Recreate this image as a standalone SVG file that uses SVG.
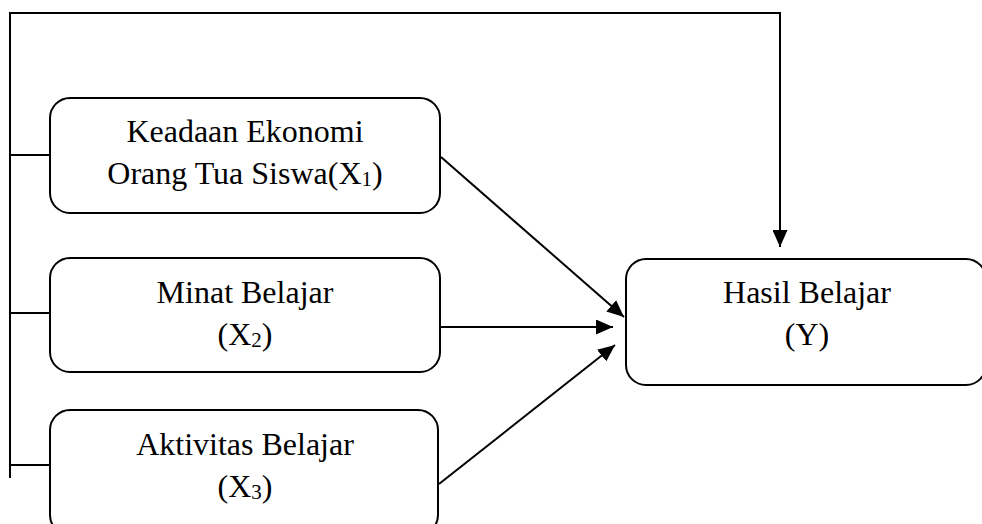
<svg xmlns="http://www.w3.org/2000/svg" width="982" height="524" viewBox="0 0 982 524">
<defs>
<style>
.box{fill:#fff;stroke:#000;stroke-width:2}
.ln{fill:none;stroke:#000;stroke-width:2}
.t{font-family:"Liberation Serif","Times New Roman",serif;font-size:32px;fill:#000;text-anchor:middle}
.s{font-size:21px}
</style>
<marker id="ah" viewBox="0 0 17 15" refX="17" refY="7.5" markerWidth="8.5" markerHeight="7.5" markerUnits="strokeWidth" orient="auto">
<path d="M0,0 L17,7.5 L0,15 Z" fill="#000"/>
</marker>
</defs>
<g id="connectors">
<polyline class="ln" points="10,478 10,13 780,13 780,247" marker-end="url(#ah)"/>
<line class="ln" x1="10" y1="155" x2="50" y2="155"/>
<line class="ln" x1="10" y1="313" x2="50" y2="313"/>
<line class="ln" x1="10" y1="465" x2="50" y2="465"/>
<line class="ln" x1="441" y1="157" x2="624" y2="317" marker-end="url(#ah)"/>
<line class="ln" x1="440" y1="327" x2="613" y2="327" marker-end="url(#ah)"/>
<line class="ln" x1="439" y1="484" x2="615" y2="345" marker-end="url(#ah)"/>
</g>
<g id="node-x1">
<rect class="box" x="50" y="98" width="390" height="115" rx="20"/>
<text class="t" x="245" y="142">Keadaan Ekonomi</text>
<text class="t" x="245" y="184">Orang Tua Siswa(X<tspan class="s" dy="2">1</tspan><tspan dy="-2">)</tspan></text>
</g>
<g id="node-x2">
<rect class="box" x="50" y="258" width="390" height="114" rx="20"/>
<text class="t" x="245" y="303">Minat Belajar</text>
<text class="t" x="245" y="345">(X<tspan class="s" dy="2">2</tspan><tspan dy="-2">)</tspan></text>
</g>
<g id="node-x3">
<rect class="box" x="50" y="410" width="388" height="125" rx="20"/>
<text class="t" x="245" y="455">Aktivitas Belajar</text>
<text class="t" x="245" y="497">(X<tspan class="s" dy="2">3</tspan><tspan dy="-2">)</tspan></text>
</g>
<g id="node-y">
<rect class="box" x="626" y="259" width="360" height="126" rx="20"/>
<text class="t" x="807" y="303">Hasil Belajar</text>
<text class="t" x="807" y="345">(Y)</text>
</g>
</svg>
